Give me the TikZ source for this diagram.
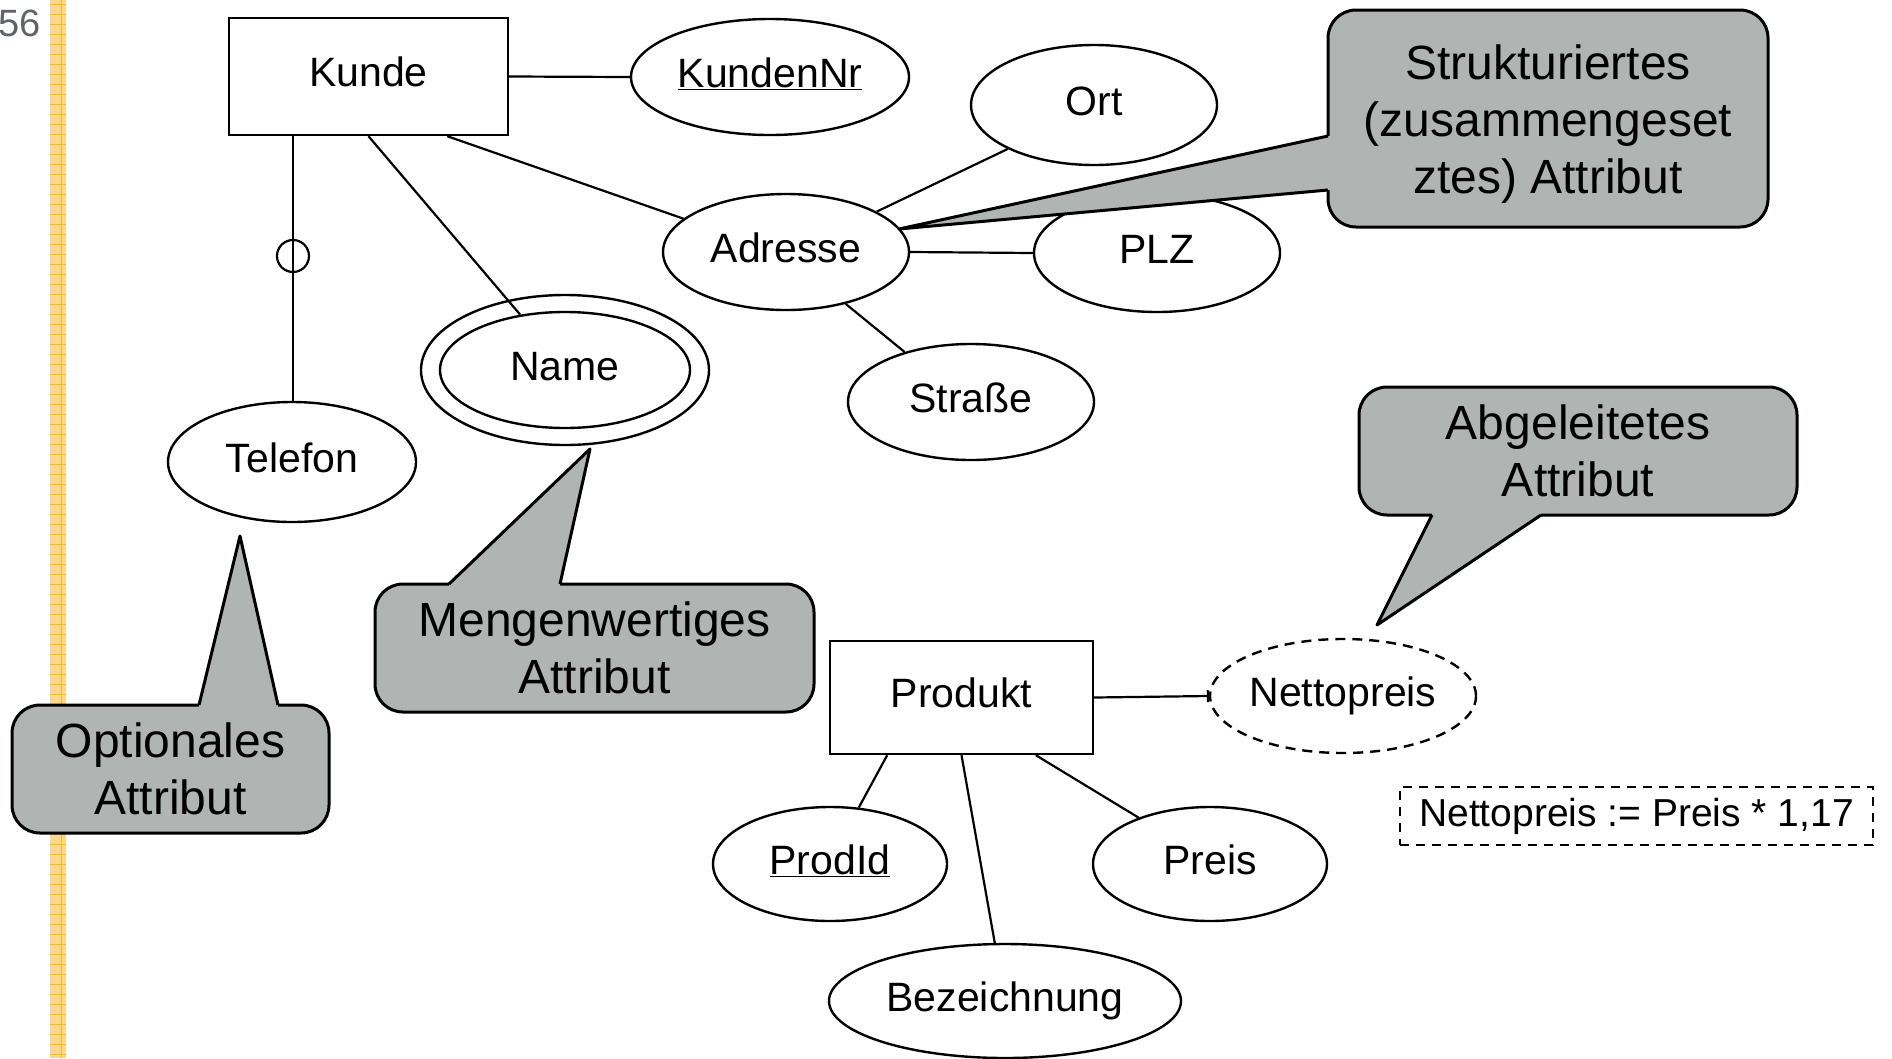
\documentclass[tikz,border=0pt]{standalone}
\usepackage{fontspec}
\setmainfont{Liberation Sans}
\usetikzlibrary{shapes.geometric,calc,arrows.meta}
\definecolor{calloutgray}{HTML}{B0B5B4}
\definecolor{barfill}{HTML}{FCD88E}
\definecolor{barline}{HTML}{F6B936}
\definecolor{pagenum}{HTML}{5F6368}
\begin{document}
\begin{tikzpicture}[x=1pt,y=-1pt,
  erfont/.style={font=\fontsize{41}{49}\selectfont, text height=30pt, text depth=10pt},
  attr/.style={ellipse, draw, line width=2.4pt, inner sep=0pt, erfont},
  entity/.style={rectangle, draw, line width=2.4pt, inner sep=0pt, erfont},
  conn/.style={line width=2.2pt},
  callout/.style={rectangle, rounded corners=28pt, draw, line width=3pt, fill=calloutgray, align=center, font=\fontsize{48}{57}\selectfont, inner sep=0pt},
  ptrside/.style={line width=3pt, line join=round}
]
\useasboundingbox (0,0) rectangle (1892,1058);
% yellow side bar
\fill[barfill] (50,0) rectangle (66,1058);
\foreach \yy in {4,14,...,1054} \draw[barline, line width=1pt] (50,\yy) -- (66,\yy);
\draw[barline, line width=1pt] (61,0) -- (61,1058);
\node[anchor=base west, text=pagenum, font=\fontsize{38}{40}\selectfont, inner sep=0pt] (pnum) at (-2,36) {56};

% entities and attributes
\node[entity, minimum width=279pt, minimum height=117pt] (kunde) at (368.5,76.5) {Kunde};
\node[attr, minimum width=278pt, minimum height=116pt] (kundennr) at (770,77) {\underline{KundenNr}};
\node[attr, minimum width=246pt, minimum height=120pt] (ort) at (1094,105) {Ort};
\node[attr, minimum width=246pt, minimum height=116pt] (adresse) at (786,252) {Adresse};
\node[attr, minimum width=246pt, minimum height=118pt] (plz) at (1157,253) {PLZ};
\node[attr, minimum width=246pt, minimum height=116pt] (strasse) at (971,402) {Straße};
\node[attr, minimum width=288pt, minimum height=150pt] (nameouter) at (565,370) {};
\node[attr, minimum width=250pt, minimum height=116pt] (name) at (565,370) {Name};
\node[attr, minimum width=248pt, minimum height=120pt] (telefon) at (292,462) {Telefon};
\node[circle, draw, line width=2.2pt, minimum size=32pt, inner sep=0pt] (opt) at (293,256) {};

\node[entity, minimum width=263pt, minimum height=113pt] (produkt) at (961.5,697.5) {Produkt};
\node[attr, dash pattern=on 10pt off 7pt, minimum width=266pt, minimum height=114pt] (netto) at (1343,696) {Nettopreis};
\node[attr, minimum width=234pt, minimum height=114pt] (prodid) at (830,864) {\underline{ProdId}};
\node[attr, minimum width=234pt, minimum height=114pt] (preis) at (1210,864) {Preis};
\node[attr, minimum width=352pt, minimum height=114pt] (bez) at (1005,1001) {Bezeichnung};
\node[rectangle, draw, dash pattern=on 9pt off 7pt, line width=2.4pt, inner sep=0pt, minimum width=473pt, minimum height=58pt, font=\fontsize{39}{45}\selectfont] (formula) at (1636.5,816) {Nettopreis := Preis * 1,17};

% connectors
\draw[conn] (kunde.east) -- (kundennr.west);
\draw[conn] (kunde.south -| opt.center) -- (telefon.north -| opt.center);
\draw[conn] (kunde.south) -- (name.129);
\draw[conn] ($(kunde.south west)!0.78!(kunde.south east)$) -- (adresse.162);
\draw[conn] (adresse.24) -- (ort.207);
\draw[conn] (adresse.east) -- (plz.west);
\draw[conn] (adresse.-41) -- (strasse.143);
\draw[conn, -{Bar[width=12pt,line width=2pt]}] (produkt.east) -- (netto.west);
\draw[conn] ($(produkt.south west)!0.22!(produkt.south east)$) -- (prodid.63);
\draw[conn] (produkt.south) -- (bez.100);
\draw[conn] ($(produkt.south west)!0.78!(produkt.south east)$) -- (preis.147);

% callouts
\node[callout, minimum width=440pt, minimum height=217pt] (struct) at (1548,118.5) {\rule{0pt}{46pt}Strukturiertes\\(zusammengeset\\ztes) Attribut};
\coordinate (sB1) at (1328,136);
\coordinate (sB2) at (1328,190);
\coordinate (sTip) at (899,229);
\fill[calloutgray] (sB1) -- (sTip) -- (sB2) -- ($(sB2)+(5,0)$) -- ($(sB1)+(5,0)$) -- cycle;
\draw[ptrside] (sB1) -- (sTip) -- (sB2);

\node[callout, minimum width=438pt, minimum height=128pt] (abgel) at (1578,451) {Abgeleitetes\\Attribut};
\coordinate (aB1) at (1432,515);
\coordinate (aB2) at (1541,515);
\coordinate (aTip) at (1377,625);
\fill[calloutgray] (aB1) -- (aTip) -- (aB2) -- ($(aB2)+(0,-5)$) -- ($(aB1)+(0,-5)$) -- cycle;
\draw[ptrside] (aB1) -- (aTip) -- (aB2);

\node[callout, minimum width=439pt, minimum height=128pt] (mengen) at (594.5,648) {Mengenwertiges\\Attribut};
\coordinate (mB1) at (449,584);
\coordinate (mB2) at (560,584);
\coordinate (mTip) at (590,449);
\fill[calloutgray] (mB1) -- (mTip) -- (mB2) -- ($(mB2)+(0,5)$) -- ($(mB1)+(0,5)$) -- cycle;
\draw[ptrside] (mB1) -- (mTip) -- (mB2);

\node[callout, minimum width=317pt, minimum height=128pt] (option) at (170.5,769) {Optionales\\Attribut};
\coordinate (oB1) at (199,705);
\coordinate (oB2) at (278,705);
\coordinate (oTip) at (240,536);
\fill[calloutgray] (oB1) -- (oTip) -- (oB2) -- ($(oB2)+(0,5)$) -- ($(oB1)+(0,5)$) -- cycle;
\draw[ptrside] (oB1) -- (oTip) -- (oB2);
\end{tikzpicture}
\end{document}
